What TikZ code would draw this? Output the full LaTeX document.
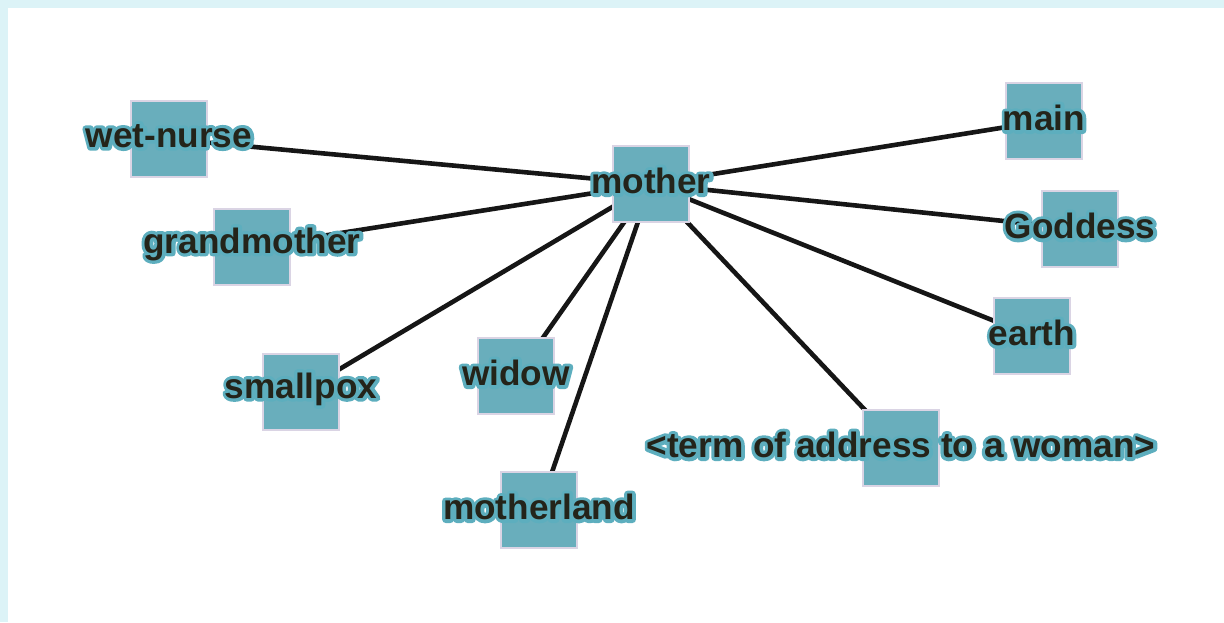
\documentclass[tikz,border=0pt]{standalone}
\usepackage{fontspec}
\setmainfont{Liberation Sans}

\definecolor{frame}{HTML}{DCF3F7}
\definecolor{boxfill}{HTML}{69AEBC}
\definecolor{boxline}{HTML}{DAD4E4}
\definecolor{halo}{HTML}{5DAEBE}
\definecolor{ink}{HTML}{24241A}
\definecolor{wire}{HTML}{161616}

% stroked (outlined) glyphs for the label halo
\newcommand\outlined[1]{%
  \special{pdf:literal direct 2 Tr 3.4 w 1 j 1 J}#1\special{pdf:literal direct 0 Tr}}

\pgfdeclarelayer{bg}
\pgfdeclarelayer{edges}
\pgfsetlayers{bg,edges,main}

\begin{document}
\begin{tikzpicture}[x=0.5pt,y=-0.5pt,
  sq/.style={draw=boxline,line width=0.75pt,fill=boxfill,minimum size=38pt,inner sep=0pt},
  lbl/.style={text=ink,font=\fontsize{17.6}{20}\selectfont\bfseries,inner sep=0pt,yshift=1.5pt},
  glow/.style={lbl,text=halo},
  link/.style={draw=wire,line width=2.3pt}]

\begin{pgfonlayer}{bg}
  \fill[frame] (0,0) rectangle (1224,622);
  \fill[white] (8,8) rectangle (1224,622);
\end{pgfonlayer}
\useasboundingbox (0,0) rectangle (1224,622);

% squares
\node[sq] (mother)      at (651,184) {};
\node[sq] (wetnurse)    at (169,139) {};
\node[sq] (main)        at (1044,121) {};
\node[sq] (grandmother) at (252,247) {};
\node[sq] (goddess)     at (1080,229) {};
\node[sq] (earth)       at (1032,336) {};
\node[sq] (smallpox)    at (301,392) {};
\node[sq] (widow)       at (516,376) {};
\node[sq] (motherland)  at (539,510) {};
\node[sq] (address)     at (901,448) {};

% connectors
\begin{pgfonlayer}{edges}
  \foreach \t in {wetnurse,main,grandmother,goddess,earth,smallpox,widow,motherland,address}
    \draw[link] (mother.center) -- (\t.center);
\end{pgfonlayer}

% labels: a stroked halo copy, then the text itself
\foreach \n/\s in {mother/mother, wetnurse/wet-nurse, main/main,
    grandmother/grandmother, goddess/Goddess, earth/earth, smallpox/smallpox,
    widow/widow, motherland/motherland, address/<term of address to a woman>}{
  \node[glow] (\n-h) at (\n) {\outlined{\s}};
  \node[lbl]  (\n-l) at (\n) {\s};
}
\end{tikzpicture}
\end{document}
